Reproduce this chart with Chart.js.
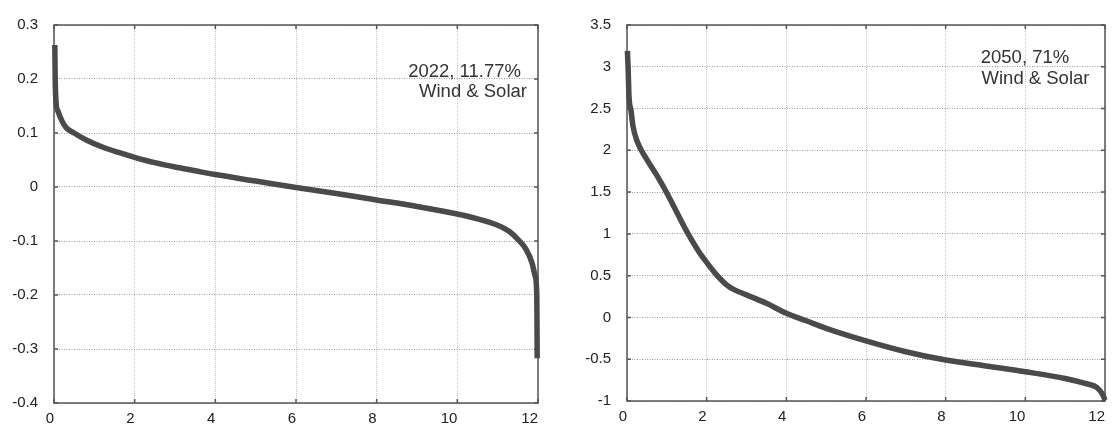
<!DOCTYPE html>
<html>
<head>
<meta charset="utf-8">
<script src="https://cdn.jsdelivr.net/npm/chart.js@4"></script>
<style>
    html, body { margin: 0; padding: 0; background: #fff; }
    body { width: 1112px; height: 424px; position: relative; overflow: hidden; }
    .panel { position: absolute; top: 0; height: 444px; }
    #left-panel { left: 0; width: 556px; }
    #right-panel { left: 573px; width: 539px; }
</style>
</head>
<body>
<div class="panel" id="left-panel"><canvas id="leftChart"></canvas></div>
<div class="panel" id="right-panel"><canvas id="rightChart"></canvas></div>
<script>
// 2022 曲线 (左)
const leftHours = [0.02, 0.03, 0.05, 0.1, 0.2, 0.3, 0.5, 0.8, 1.2, 1.6, 2.0, 2.5, 3.0, 3.5, 4.0, 5.0, 6.0, 7.0, 8.0, 9.0, 10.0, 10.5, 11.0, 11.3, 11.5, 11.7, 11.85, 11.93, 11.97, 11.98];
const leftValues = [0.263, 0.2, 0.158, 0.14, 0.122, 0.11, 0.1, 0.087, 0.074, 0.064, 0.055, 0.045, 0.037, 0.03, 0.023, 0.011, -0.001, -0.012, -0.024, -0.036, -0.05, -0.059, -0.071, -0.083, -0.097, -0.115, -0.14, -0.165, -0.2, -0.317];

// 2050 曲线 (右)
const rightHours = [0.01, 0.03, 0.05, 0.1, 0.15, 0.27, 0.5, 0.75, 1.0, 1.25, 1.5, 1.8, 2.0, 2.25, 2.5, 2.7, 3.0, 3.5, 4.0, 4.5, 5.0, 6.0, 7.0, 8.0, 9.0, 10.0, 11.0, 11.5, 11.8, 11.95, 12.0];
const rightValues = [3.19, 2.95, 2.65, 2.48, 2.29, 2.09, 1.89, 1.70, 1.49, 1.26, 1.03, 0.79, 0.66, 0.51, 0.39, 0.33, 0.27, 0.17, 0.05, -0.04, -0.13, -0.28, -0.41, -0.51, -0.58, -0.65, -0.73, -0.79, -0.84, -0.93, -0.99];

// 刻度
const xTicks = [0, 2, 4, 6, 8, 10, 12];
const leftYTicks = [-0.4, -0.3, -0.2, -0.1, 0, 0.1, 0.2, 0.3];
const rightYTicks = [-1, -0.5, 0, 0.5, 1, 1.5, 2, 2.5, 3, 3.5];

// 注释文字
const leftNotes = ["2022, 11.77%", "Wind & Solar"];
const rightNotes = ["2050, 71%", "Wind & Solar"];

const FONT = "'Liberation Sans', Arial, sans-serif";

// 边框、内向刻度和注释
const framePlugin = {
    id: 'frame',
    beforeDatasetsDraw(chart) {
        const { ctx, chartArea: a, scales: { x, y } } = chart;
        ctx.save();
        ctx.strokeStyle = '#555';
        ctx.lineWidth = 1.5;
        ctx.strokeRect(a.left, a.top, a.right - a.left, a.bottom - a.top);
        ctx.beginPath();
        x.ticks.forEach(t => {
            const px = x.getPixelForValue(t.value);
            ctx.moveTo(px, a.bottom); ctx.lineTo(px, a.bottom - 4);
            ctx.moveTo(px, a.top); ctx.lineTo(px, a.top + 4);
        });
        y.ticks.forEach(t => {
            const py = y.getPixelForValue(t.value);
            ctx.moveTo(a.left, py); ctx.lineTo(a.left + 4, py);
            ctx.moveTo(a.right, py); ctx.lineTo(a.right - 4, py);
        });
        ctx.stroke();
        ctx.restore();
    },
    afterDraw(chart, args, opts) {
        const { ctx, scales: { x, y } } = chart;
        ctx.save();
        ctx.font = '18.5px ' + FONT;
        ctx.fillStyle = '#333';
        ctx.textAlign = 'left';
        ctx.textBaseline = 'alphabetic';
        (opts.notes || []).forEach(n => {
            ctx.fillText(n.text, x.getPixelForValue(n.x), y.getPixelForValue(n.y));
        });
        ctx.restore();
    }
};

function makeChart(id, hours, values, yTicks, yMin, yMax, pad, notes) {
    const ctx = document.getElementById(id).getContext('2d');
    return new Chart(ctx, {
        type: 'line',
        data: {
            datasets: [{
                data: hours.map((h, i) => ({ x: h, y: values[i] })),
                borderColor: '#4a4a4a',
                borderWidth: 5.5,
                pointRadius: 0,
                pointHoverRadius: 0,
                cubicInterpolationMode: 'monotone',
                fill: false,
                clip: 8
            }]
        },
        options: {
            responsive: true,
            maintainAspectRatio: false,
            animation: false,
            layout: { padding: pad, autoPadding: false },
            scales: {
                x: {
                    type: 'linear',
                    min: 0,
                    max: 12,
                    afterBuildTicks: s => { s.ticks = xTicks.map(v => ({ value: v })); },
                    afterFit: s => { s.height = 22; },
                    grid: { color: '#c4c4c4', lineWidth: 1, drawTicks: false },
                    border: { display: false, dash: [1, 1] },
                    ticks: {
                        align: 'end',
                        padding: 7,
                        color: '#222',
                        font: { family: FONT, size: 15 },
                        callback: v => String(v)
                    }
                },
                y: {
                    min: yMin,
                    max: yMax,
                    afterBuildTicks: s => { s.ticks = yTicks.map(v => ({ value: v })); },
                    afterFit: s => { s.width = 54; },
                    grid: { color: '#9a9a9a', lineWidth: 1, drawTicks: false },
                    border: { display: false, dash: [1, 1.5] },
                    ticks: {
                        padding: 16,
                        color: '#222',
                        font: { family: FONT, size: 15 },
                        callback: v => String(v)
                    }
                }
            },
            plugins: {
                legend: { display: false },
                tooltip: { enabled: false },
                frame: { notes: notes }
            }
        },
        plugins: [framePlugin]
    });
}

// 把绘图区对齐到目标位置
function fitArea(chart, top, bottom) {
    const p = chart.options.layout.padding;
    for (let i = 0; i < 3; i++) {
        const a = chart.chartArea;
        const dt = top - a.top;
        const db = a.bottom - bottom;
        if (Math.abs(dt) < 0.5 && Math.abs(db) < 0.5) break;
        p.top += dt;
        p.bottom += db;
        chart.update();
    }
}

document.addEventListener('DOMContentLoaded', function() {
    const left = makeChart('leftChart', leftHours, leftValues, leftYTicks, -0.4, 0.3,
        { top: 23, right: 18, left: 0, bottom: 19 },
        [{ text: leftNotes[0], x: 8.78, y: 0.204 }, { text: leftNotes[1], x: 9.05, y: 0.166 }]);
    const right = makeChart('rightChart', rightHours, rightValues, rightYTicks, -1, 3.5,
        { top: 21, right: 1, left: 0, bottom: 21 },
        [{ text: rightNotes[0], x: 8.88, y: 3.04 }, { text: rightNotes[1], x: 8.90, y: 2.79 }]);
    fitArea(left, 23, 403);
    fitArea(right, 21, 401);
});
</script>
</body>
</html>
